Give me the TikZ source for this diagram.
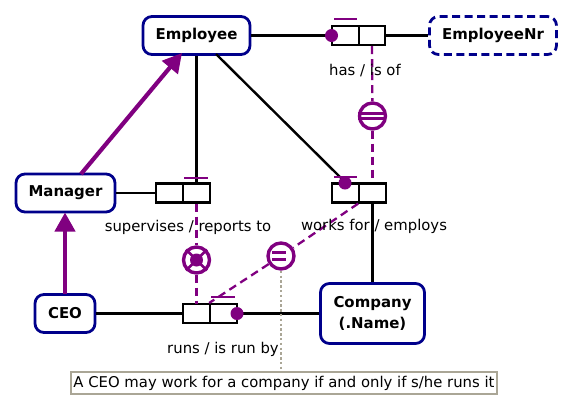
\documentclass[tikz,border=0pt]{standalone}
\usepackage{fontspec}
\setmainfont{DejaVu Sans}
\usetikzlibrary{arrows.meta}
\definecolor{ormblue}{RGB}{0,0,139}
\definecolor{ormpurple}{RGB}{128,0,128}
\definecolor{notegray}{RGB}{170,166,150}
\tikzset{
  x=1bp,y=-1bp,
  entity/.style={draw=ormblue,line width=2.8bp,rounded corners=9bp,fill=white,inner sep=0pt,align=center,font=\fontsize{15}{21}\selectfont\bfseries,text=black},
  ident/.style={entity,dash pattern=on 8bp off 4.5bp},
  roleseg/.style={draw=black,line width=2.1bp,fill=white,minimum width=26.5bp,minimum height=19bp,inner sep=0pt},
  conn/.style={draw=black,line width=2.4bp},
  sup/.style={draw=ormpurple,line width=4.2bp,-{Triangle[length=19bp,width=20bp]}},
  cdash/.style={draw=ormpurple,line width=2.3bp,dash pattern=on 8bp off 5bp},
  cring/.style={circle,draw=ormpurple,line width=3.4bp,fill=white,minimum size=26bp,inner sep=0pt},
  bar/.style={draw=ormpurple,line width=2bp},
  dot/.style={circle,fill=ormpurple,minimum size=13bp,inner sep=0pt},
  lbl/.style={font=\fontsize{14.9}{17}\selectfont,text=black,inner sep=0pt},
}
\begin{document}
\begin{tikzpicture}
\useasboundingbox (0,0) rectangle (573,414);
% entities
\node[entity,minimum width=107bp,minimum height=38bp] (emp) at (196.5,35.5) {Employee};
\node[ident,minimum width=127bp,minimum height=38bp] (empnr) at (493,35.5) {EmployeeNr};
\node[entity,minimum width=99bp,minimum height=38bp] (mgr) at (65.5,193) {Manager};
\node[entity,minimum width=60bp,minimum height=38bp] (ceo) at (65,313.5) {CEO};
\node[entity,minimum width=104bp,minimum height=60bp] (co) at (372.5,313.5) {Company\\(.Name)};
% role boxes
\node[roleseg] (h1) at (345.5,35.5) {};
\node[roleseg] (h2) at (372,35.5) {};
\node[roleseg] (s1) at (169.5,193) {};
\node[roleseg] (s2) at (196.5,193) {};
\node[roleseg] (w1) at (345.5,193) {};
\node[roleseg] (w2) at (372.5,193) {};
\node[roleseg] (r1) at (196.5,313.5) {};
\node[roleseg] (r2) at (223.5,313.5) {};
% constraint circles
\node[cring] (ceq1) at (372.5,116) {};
\node[cring] (cx) at (196.5,260) {};
\node[cring] (ceq2) at (281,256) {};
\node[draw=notegray,line width=2.2bp,fill=white,inner sep=0pt,minimum width=426bp,minimum height=22bp,lbl] (note) at (284,383) {A CEO may work for a company if and only if s/he runs it};
\coordinate (ea) at (216,54);
\coordinate (ma) at (81,174);
\coordinate (mb) at (182,53);
\coordinate (md) at (65,212.5);
\coordinate (ce) at (65,294);
\coordinate (nt) at (281,371);
\coordinate (rt) at (196.5,304);
% connectors
\draw[conn] (emp.east) -- (h1.west);
\draw[conn] (h2.east) -- (empnr.west);
\draw[conn] (emp.south) -- (s2.north);
\draw[conn] (ea) -- (w1.north);
\draw[conn] (mgr.east) -- (s1.west);
\draw[conn] (w2.south) -- (co.north);
\draw[conn] (ceo.east) -- (r1.west);
\draw[conn] (r2.east) -- (co.west);
\draw[sup] (ma) -- (mb);
\draw[sup] (ce) -- (md);
% dashed
\draw[cdash] (h2.south) -- (ceq1);
\draw[cdash] (ceq1) -- (w2.north);
\draw[cdash] (s2.south) -- (cx);
\draw[cdash] (cx) -- (rt);
\draw[cdash] (w2.south west) -- (ceq2);
\draw[cdash] (ceq2) -- (r2.north west);
\draw[draw=notegray,line width=2.6bp,dash pattern=on 2.4bp off 2.4bp] (ceq2) -- (nt);
% ring contents
\draw[ormpurple,line width=2.2bp] (ceq1.west) ++(0,-2.5) -- ++(26,0) (ceq1.west) ++(0,2.5) -- ++(26,0);
\draw[ormpurple,line width=2.7bp] (ceq2.west) ++(6,-3.2) -- ++(14,0) (ceq2.west) ++(6,3.2) -- ++(14,0);
\draw[ormpurple,line width=2.6bp] (cx.north west) -- (cx.south east) (cx.north east) -- (cx.south west);
\fill[ormpurple] (cx) circle[radius=6.5bp];
% bars and dots
\draw[bar] (334,19) -- (357,19);
\draw[bar] (184,178) -- (208,178);
\draw[bar] (334,177) -- (357,177);
\draw[bar] (211,297) -- (235,297);
\node[dot] at (331.5,35.5) {};
\node[dot] at (345,183) {};
\node[dot] at (237,313.5) {};
% labels
\node[lbl] at (365,71) {has / is of};
\node[lbl] at (188,227) {supervises / reports to};
\node[lbl] at (374,226) {works for / employs};
\node[lbl] at (223,349) {runs / is run by};
\end{tikzpicture}
\end{document}
